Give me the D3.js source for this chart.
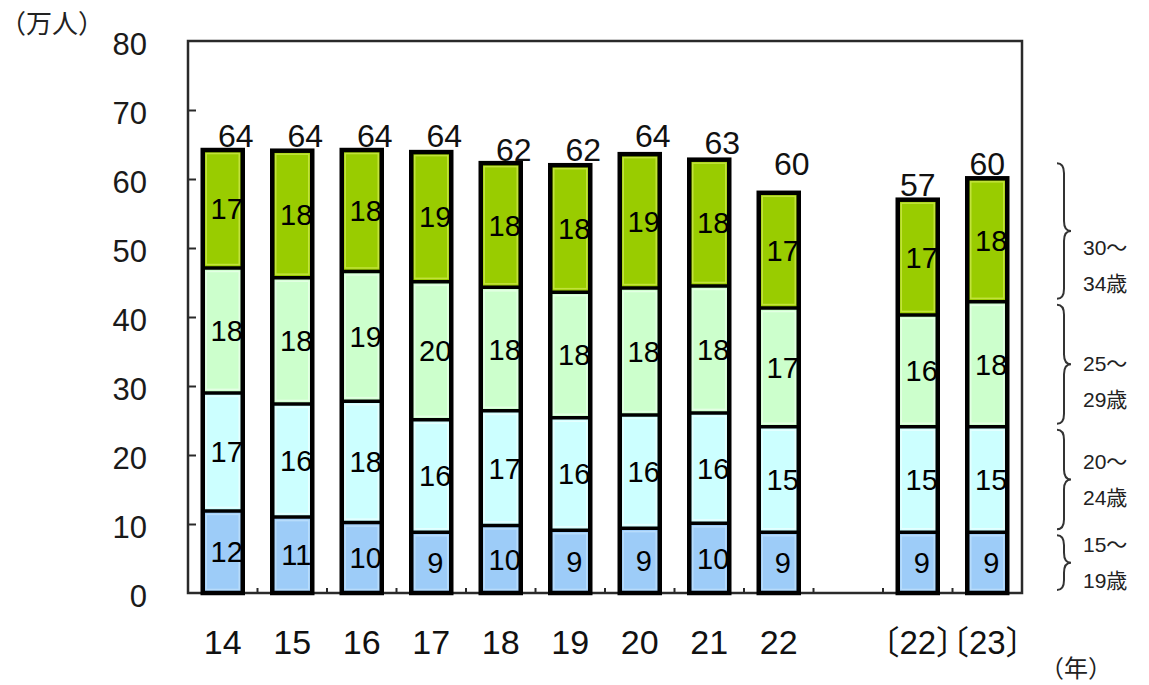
<!DOCTYPE html>
<html>
<head>
<meta charset="utf-8">
<script src="https://cdn.jsdelivr.net/npm/d3@7"></script>
<style>
  html, body { margin: 0; padding: 0; background: #fff; }
  svg { display: block; }
  text { font-family: "Liberation Sans", Arial, "Noto Sans CJK JP", sans-serif; fill: #111; }
  .cjk { font-family: "Noto Sans CJK JP", "Liberation Sans", sans-serif; }
  .halt { font-feature-settings: "halt" 1; }
</style>
</head>
<body>
<svg id="chart" width="1149" height="685"></svg>
<script>
// ---- data ----
const categories = ["14", "15", "16", "17", "18", "19", "20", "21", "22", "〔22〕", "〔23〕"];
const slots = ["14", "15", "16", "17", "18", "19", "20", "21", "22", "gap", "〔22〕", "〔23〕"];
const age15to19 = [11.9, 11.0, 10.2, 8.8, 9.8, 9.1, 9.4, 10.1, 8.8, 8.8, 8.8];
const age20to24 = [17.1, 16.4, 17.6, 16.3, 16.6, 16.3, 16.4, 16.0, 15.3, 15.3, 15.3];
const age25to29 = [18.1, 18.3, 18.8, 20.0, 17.9, 18.2, 18.4, 18.4, 17.2, 16.2, 18.1];
const age30to34 = [17.1, 18.4, 17.6, 18.8, 18.0, 18.4, 19.4, 18.3, 16.7, 16.7, 17.9];
const totalLabels = [64, 64, 64, 64, 62, 62, 64, 63, 60, 57, 60];
const yTicks = [0, 10, 20, 30, 40, 50, 60, 70, 80];
const groupNames = [["15～", "19歳"], ["20～", "24歳"], ["25～", "29歳"], ["30～", "34歳"]];
const yUnit = "（万人）";
const xUnit = "（年）";

// ---- styles / layout ----
const colors = ["#9dccf8", "#ccffff", "#ccffcc", "#99cc00"];
const rims = ["#b8dcfb", "#e6ffff", "#e4ffe4", "#c2e23c"];
const series = [age15to19, age20to24, age25to29, age30to34];

const svg = d3.select("#chart");
const plot = { left: 188, right: 1022, top: 41, bottom: 593 };

const x = d3.scaleBand().domain(slots).range([plot.left, plot.right]).padding(0);
const y = d3.scaleLinear().domain([0, 80]).range([plot.bottom, plot.top]);
const barW = 40;

// stacked data
const rows = categories.map((c, i) => {
  let acc = 0;
  const segs = series.map((s, k) => {
    const y0 = acc; acc += s[i];
    return { k, v: s[i], y0, y1: acc };
  });
  return { cat: c, i, segs, total: acc, label: totalLabels[i] };
});

// frame
svg.append("rect")
  .attr("x", plot.left).attr("y", plot.top)
  .attr("width", plot.right - plot.left).attr("height", plot.bottom - plot.top)
  .attr("fill", "none").attr("stroke", "#2a2a2a").attr("stroke-width", 2.5);

// y ticks (inward) and labels
const yAxis = d3.axisRight(y).tickValues(yTicks.filter(v => v > 0 && v < 80)).tickSize(8).tickFormat("");
const ya = svg.append("g").attr("transform", `translate(${plot.left},0)`).call(yAxis);
ya.select(".domain").remove();
ya.selectAll("line").attr("stroke", "#2a2a2a").attr("stroke-width", 2);

svg.append("g").selectAll("text").data(yTicks).join("text")
  .attr("x", 147).attr("y", d => y(d) + 3)
  .attr("dy", "0.35em").attr("text-anchor", "end")
  .attr("font-size", 31).style("fill", "#1a1a1a").text(d => d);

// x ticks at band boundaries (upward)
const bounds = slots.slice(1).map(s => x(s));
svg.append("g").selectAll("line").data(bounds).join("line")
  .attr("x1", d => d).attr("x2", d => d)
  .attr("y1", plot.bottom).attr("y2", plot.bottom - 5)
  .attr("stroke", "#2a2a2a").attr("stroke-width", 2);

// x labels
const xAxis = d3.axisBottom(x).tickValues(categories).tickSize(0);
const xa = svg.append("g").attr("transform", `translate(0,${plot.bottom})`).call(xAxis);
xa.select(".domain").remove();
xa.selectAll("text")
  .attr("y", 61).attr("dy", 0)
  .attr("font-size", d => d.startsWith("〔") ? 33 : 34)
  .attr("class", d => d.startsWith("〔") ? "halt" : null)
  .style("font-family", "'Liberation Sans', 'Noto Sans CJK JP', sans-serif")
  .style("fill", "#111");

// bars
const bars = svg.append("g").selectAll("g").data(rows).join("g")
  .attr("transform", d => `translate(${x(d.cat) + (x.bandwidth() - barW) / 2},0)`);

bars.selectAll("rect.fill").data(d => d.segs).join("rect")
  .attr("class", "fill")
  .attr("x", 0).attr("width", barW)
  .attr("y", s => y(s.y1)).attr("height", s => y(s.y0) - y(s.y1))
  .attr("fill", s => colors[s.k]);

bars.selectAll("rect.rim").data(d => d.segs).join("rect")
  .attr("class", "rim")
  .attr("x", 3.5).attr("width", barW - 7)
  .attr("y", s => y(s.y1) + 3.5).attr("height", s => Math.max(0, y(s.y0) - y(s.y1) - 7))
  .attr("fill", "none").attr("stroke", s => rims[s.k]).attr("stroke-width", 1.5);

bars.selectAll("text.seg").data(d => d.segs).join("text")
  .attr("class", "seg")
  .attr("x", barW / 2 + 4)
  .attr("y", s => (y(s.y0) + y(s.y1)) / 2)
  .attr("dy", "0.36em").attr("text-anchor", "middle")
  .attr("font-size", 29).style("fill", "#000")
  .text(s => Math.round(s.v));

bars.selectAll("line.sep").data(d => d.segs.slice(1)).join("line")
  .attr("class", "sep")
  .attr("x1", 0).attr("x2", barW)
  .attr("y1", s => y(s.y0)).attr("y2", s => y(s.y0))
  .attr("stroke", "#000").attr("stroke-width", 3.5);

bars.append("rect")
  .attr("x", 0).attr("width", barW)
  .attr("y", d => y(d.total)).attr("height", d => y(0) - y(d.total))
  .attr("fill", "none").attr("stroke", "#000").attr("stroke-width", 4.5);

// total labels
bars.append("text")
  .attr("x", d => barW / 2 + (d.i < 9 ? 13 : 0))
  .attr("y", d => y(d.label) - 4)
  .attr("text-anchor", "middle")
  .attr("font-size", 32)
  .text(d => d.label);

// right-hand group braces and labels
const last = rows[rows.length - 1];
const labelShift = [0, 0, 17, 35];
const leg = svg.append("g");
last.segs.forEach((s, k) => {
  const top = y(s.y1) + (k === 3 ? -15 : 3);
  const bot = y(s.y0) - 3;
  const bx = 1057, w = 14, q = 10;
  const ym = (top + bot) / 2;
  const hx = bx + w / 2;
  const p = `M${bx},${top} Q${hx},${top} ${hx},${top + q} L${hx},${ym - q} Q${hx},${ym} ${bx + w},${ym}` +
            ` Q${hx},${ym} ${hx},${ym + q} L${hx},${bot - q} Q${hx},${bot} ${bx},${bot}`;
  leg.append("path").attr("d", p).attr("fill", "none").attr("stroke", "#333").attr("stroke-width", 2);
  const cy = ym + labelShift[k];
  groupNames[k].forEach((t, j) => {
    leg.append("text")
      .style("font-family", "'Liberation Sans', 'Noto Sans CJK JP', sans-serif")
      .attr("x", 1083).attr("y", cy + (j === 0 ? -18 : 18))
      .attr("dy", "0.35em").attr("font-size", 21).style("fill", "#222").text(t);
  });
});

// unit labels
svg.append("text").attr("class", "cjk").attr("x", 0).attr("y", 33)
  .attr("font-size", 26).style("fill", "#222").text(yUnit);
svg.append("text").attr("class", "cjk").attr("x", 1040).attr("y", 677)
  .attr("font-size", 24).style("fill", "#222").text(xUnit);
</script>
</body>
</html>
